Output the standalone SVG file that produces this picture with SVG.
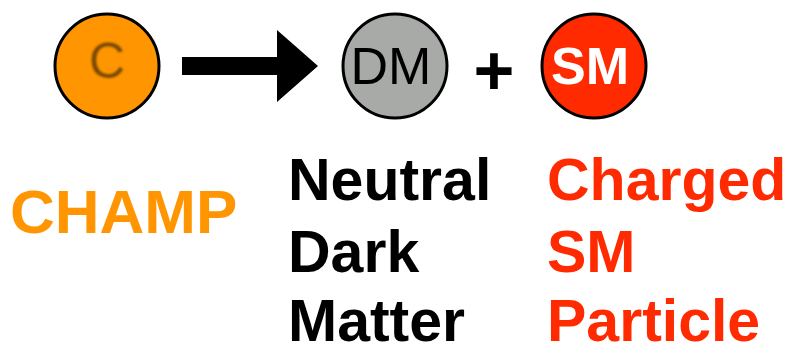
<svg xmlns="http://www.w3.org/2000/svg" width="799" height="353" viewBox="0 0 799 353">
<defs>
<style>
.t{font-family:"Liberation Sans",Arial,sans-serif;}
.b{font-weight:bold;}
.node{stroke:#000;stroke-width:3;}
</style>
<filter id="soft" x="-20%" y="-20%" width="140%" height="140%"><feGaussianBlur stdDeviation="1"/></filter>
</defs>
<rect width="799" height="353" fill="#fff"/>
<g id="node-C">
<circle class="node" cx="107" cy="66" r="52" fill="#FF9500"/>
<text class="t" x="107" y="78" font-size="50" text-anchor="middle" fill="#7A4A00" filter="url(#soft)">C</text>
</g>
<g id="connectors">
<polygon points="182,57 277,57 277,30 318,66 277,102 277,75 182,75" fill="#000"/>
</g>
<g id="node-DM">
<circle class="node" cx="395" cy="66" r="52" fill="#A8AAA8"/>
<text class="t" x="391" y="84" font-size="52" text-anchor="middle" fill="#000">DM</text>
</g>
<text class="t b" x="494" y="95" font-size="70" text-anchor="middle" fill="#000">+</text>
<g id="node-SM">
<circle class="node" cx="594" cy="66" r="52" fill="#FF2A00"/>
<text class="t b" x="590" y="84" font-size="52" text-anchor="middle" fill="#fff">SM</text>
</g>
<text class="t b" x="10" y="233" font-size="62" fill="#FF9500">CHAMP</text>
<g class="t b" font-size="59" fill="#000">
<text x="288" y="200">Neutral</text>
<text x="288" y="272">Dark</text>
<text x="288" y="341">Matter</text>
</g>
<g class="t b" font-size="59" fill="#FF2A00">
<text x="547" y="200">Charged</text>
<text x="547" y="272">SM</text>
<text x="547" y="341">Particle</text>
</g>
</svg>
